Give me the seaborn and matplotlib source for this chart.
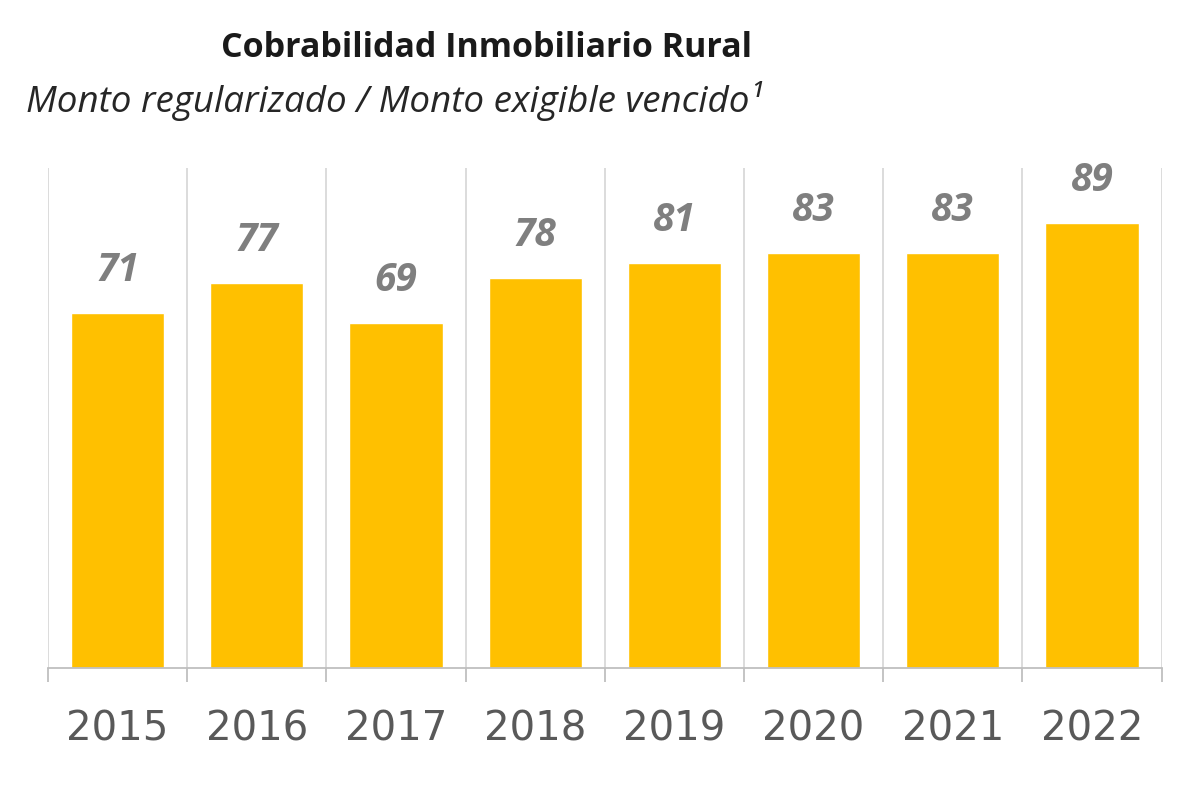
import numpy as np
import pandas as pd
import seaborn as sns
from matplotlib import pyplot as plt

years = ['2015', '2016', '2017', '2018', '2019', '2020', '2021', '2022']
valores = [71, 77, 69, 78, 81, 83, 83, 89]

sns.set_theme(style='white')
plt.rcParams['font.family'] = ['Open Sans', 'DejaVu Sans']

df = pd.DataFrame({'anio': years, 'valor': valores})

fig = plt.figure(figsize=(12, 7.97), dpi=100)
ax = fig.add_axes([0.04, 0.162, 0.928, 0.627])

sns.barplot(data=df, x='anio', y='valor', color='#FFC000', saturation=1,
            width=0.67, ax=ax)

ax.set_ylim(0, 100)
ax.set_xlim(-0.5, len(years) - 0.5)
ax.set_xlabel('')
ax.set_ylabel('')
ax.set_yticks([])

# separadores verticales entre categorias
ax.set_xticks(np.arange(-0.5, len(years), 1), minor=True)
ax.grid(True, which='minor', axis='x', color='#d9d9d9', linewidth=1.3)
ax.tick_params(axis='x', which='minor', length=10, color='#bfbfbf', width=1.3, direction='out', bottom=True)
ax.tick_params(axis='x', which='major', length=0, pad=30, labelsize=29, labelcolor='#595959')
for t in ax.get_xticklabels():
    t.set_fontfamily(['DejaVu Sans'])

for s in ['top', 'left', 'right']:
    ax.spines[s].set_visible(False)
ax.spines['bottom'].set_color('#bfbfbf')
ax.spines['bottom'].set_linewidth(1.3)

for i, v in enumerate(valores):
    ax.text(i, v + 8.6, str(v), ha='center', va='center', fontsize=28,
            fontweight='bold', fontstyle='italic', color='#7f7f7f')

fig.text(0.405, 0.94, 'Cobrabilidad Inmobiliario Rural', ha='center', va='center',
         fontsize=24.5, fontweight='bold', color='#1a1a1a')
fig.text(0.022, 0.873, 'Monto regularizado / Monto exigible vencido\u00b9', ha='left', va='center',
         fontsize=26.5, fontstyle='italic', color='#262626')

plt.savefig('out.png', dpi=100)
